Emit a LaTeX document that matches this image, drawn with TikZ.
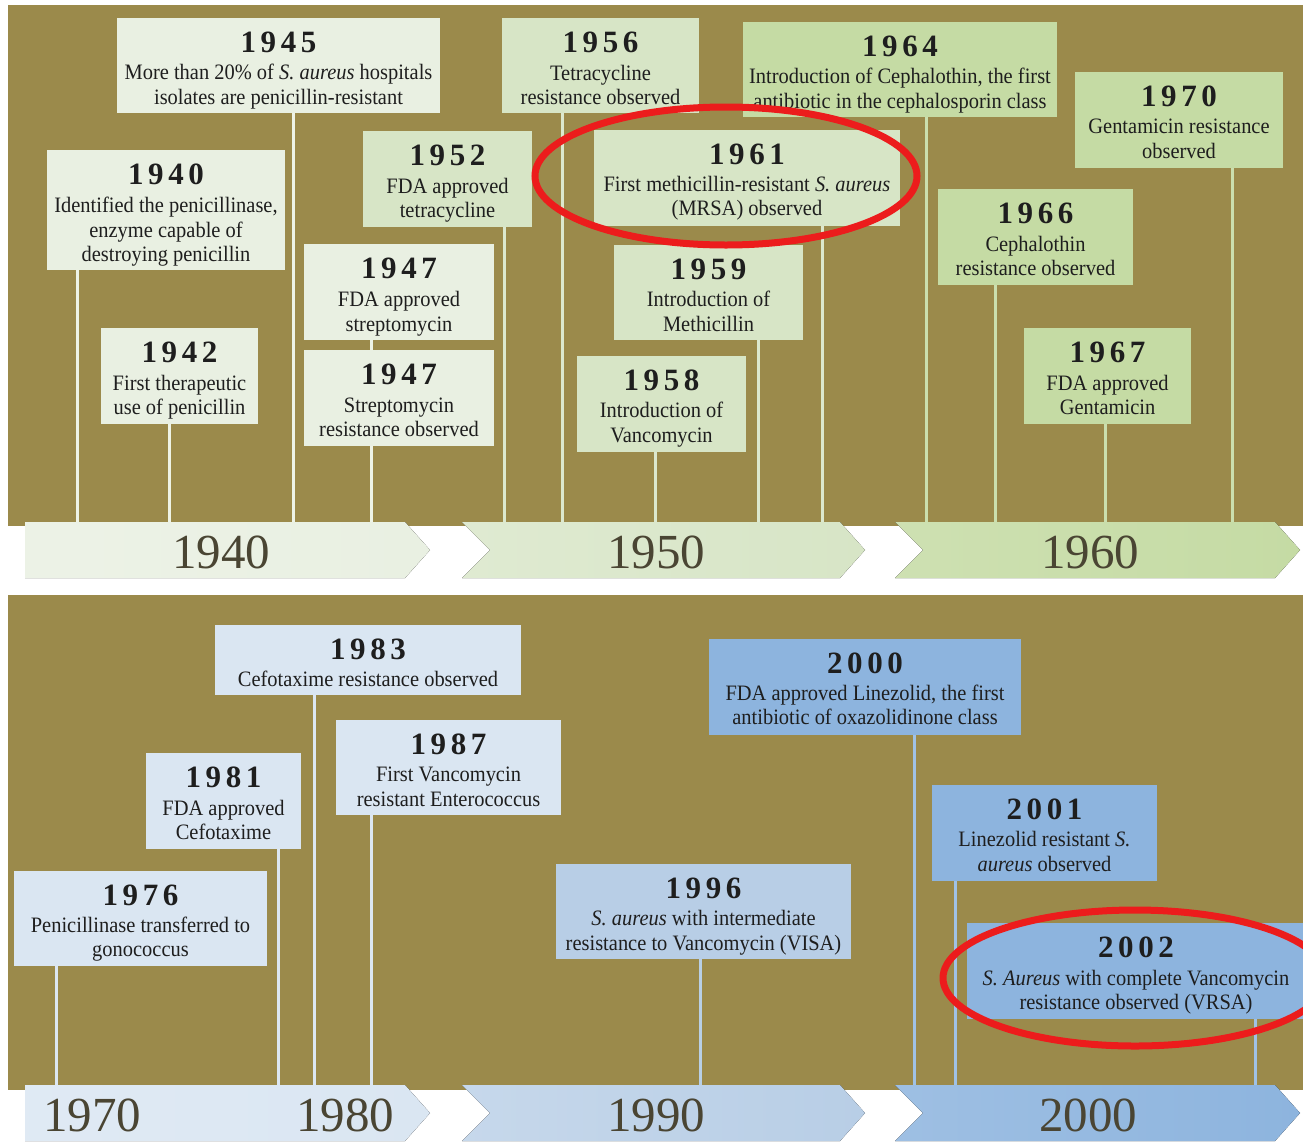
\documentclass[tikz,border=0pt]{standalone}
\usepackage{fontspec}
\setmainfont{Liberation Serif}
\newfontfamily\bodyf[FakeStretch=0.93]{Liberation Serif}
\newfontfamily\yearf[LetterSpace=15]{Liberation Serif}
\usetikzlibrary{fit}
\definecolor{olivebg}{HTML}{9B8A4B}
\definecolor{cA}{HTML}{E9F0E2}
\definecolor{cB}{HTML}{D7E5C6}
\definecolor{cC}{HTML}{C5DBA4}
\definecolor{cD}{HTML}{DAE6F2}
\definecolor{cE}{HTML}{B8CEE6}
\definecolor{cF}{HTML}{8DB4DE}
\definecolor{lA}{HTML}{EEF3E6}
\definecolor{lB}{HTML}{DCE8CE}
\definecolor{lC}{HTML}{CBDFAE}
\definecolor{lD}{HTML}{DCE7F2}
\definecolor{lE}{HTML}{B8CFE6}
\definecolor{lF}{HTML}{A0C2E6}
\definecolor{txt}{HTML}{1E1E1E}
\definecolor{axtxt}{HTML}{4A4533}
\definecolor{mark}{HTML}{EC1C1C}
\tikzset{
  evbox/.style={inner sep=0pt, outer sep=0pt, fill=#1},
  yr/.style={font=\yearf\fontsize{31}{31}\selectfont\bfseries, text height=21pt, text depth=0pt, inner sep=0pt, text=txt},
  bd/.style={font=\bodyf\fontsize{22}{22}\selectfont, text height=13pt, text depth=0pt, inner sep=0pt, text=txt},
  ax/.style={font=\fontsize{49}{49}\selectfont, text=axtxt, text height=33pt, text depth=0pt, inner sep=0pt},
  cn/.style={draw=#1, line width=3pt},
  ring/.style={draw=mark, line width=7pt},
}
\newcommand\evbox[6]{\node[evbox=#6, fit={(#2,#3) (#4,#5)}] (#1) {};}
\newcommand\evyear[2]{\node[yr] (#1-y) at ([yshift=-24pt]#1.north) {#2};}
\newcommand\evline[3]{\node[bd] (#1-l#2) at ([yshift=-#2pt]#1.north) {#3};}
\begin{document}
\begin{tikzpicture}[x=1pt,y=-1pt]
\useasboundingbox (0,0) rectangle (1303,1141);
\clip (0,0) rectangle (1303,1141);
\fill[white] (0,0) rectangle (1303,1141);
% panels
\fill[olivebg] (8,5) rectangle (1310,526);
\fill[olivebg] (8,595) rectangle (1310,1090);
% axis coordinates
\foreach \n/\x in {1945/293,1940/77,1942/169,1947/371,1952/504,1956/562,1961/822,1959/758,1958/655,1964/926,1970/1232,1966/995,1967/1105}
  \coordinate (a\n) at (\x,522);
\foreach \n/\x in {1983/314,1981/278,1987/371,1976/56,1996/700,2000/914,2001/955,2002/1255}
  \coordinate (a\n) at (\x,1085);
% boxes (top)
\evbox{b1945}{117}{18}{440}{113}{cA}
\evbox{b1940}{47}{150}{285}{270}{cA}
\evbox{b1942}{101}{328}{258}{424}{cA}
\evbox{b1947a}{304}{244}{494}{340}{cA}
\evbox{b1947b}{304}{350}{494}{446}{cA}
\evbox{b1952}{363}{131}{532}{227}{cB}
\evbox{b1956}{502}{18}{699}{113}{cB}
\evbox{b1961}{594}{130}{900}{226}{cB}
\evbox{b1959}{614}{245}{803}{340}{cB}
\evbox{b1958}{577}{356}{746}{452}{cB}
\evbox{b1964}{743}{22}{1057}{117}{cC}
\evbox{b1970}{1075}{72}{1283}{168}{cC}
\evbox{b1966}{938}{189}{1133}{285}{cC}
\evbox{b1967}{1024}{328}{1191}{424}{cC}
% boxes (bottom)
\evbox{b1983}{215}{625}{521}{695}{cD}
\evbox{b1981}{146}{753}{301}{849}{cD}
\evbox{b1987}{336}{720}{561}{815}{cD}
\evbox{b1976}{14}{871}{267}{966}{cD}
\evbox{b1996}{556}{864}{851}{959}{cE}
\evbox{b2000}{709}{639}{1021}{735}{cF}
\evbox{b2001}{932}{785}{1157}{881}{cF}
\evbox{b2002}{967}{923}{1305}{1019}{cF}
% connectors (behind boxes)
\begin{scope}[on background layer/.style={}]
\end{scope}
\draw[cn=lA] (b1945.south -| a1945) -- (a1945);
\draw[cn=lA] (b1940.south -| a1940) -- (a1940);
\draw[cn=lA] (b1942.south -| a1942) -- (a1942);
\draw[cn=lA] (b1947a.south -| a1947) -- (b1947b.north -| a1947);
\draw[cn=lA] (b1947b.south -| a1947) -- (a1947);
\draw[cn=lB] (b1952.south -| a1952) -- (a1952);
\draw[cn=lB] (b1956.south -| a1956) -- (a1956);
\draw[cn=lB] (b1961.south -| a1961) -- (a1961);
\draw[cn=lB] (b1959.south -| a1959) -- (a1959);
\draw[cn=lB] (b1958.south -| a1958) -- (a1958);
\draw[cn=lC] (b1964.south -| a1964) -- (a1964);
\draw[cn=lC] (b1970.south -| a1970) -- (a1970);
\draw[cn=lC] (b1966.south -| a1966) -- (a1966);
\draw[cn=lC] (b1967.south -| a1967) -- (a1967);
\draw[cn=lD] (b1983.south -| a1983) -- (a1983);
\draw[cn=lD] (b1981.south -| a1981) -- (a1981);
\draw[cn=lD] (b1987.south -| a1987) -- (a1987);
\draw[cn=lD] (b1976.south -| a1976) -- (a1976);
\draw[cn=lE] (b1996.south -| a1996) -- (a1996);
\draw[cn=lF] (b2000.south -| a2000) -- (a2000);
\draw[cn=lF] (b2001.south -| a2001) -- (a2001);
\draw[cn=lF] (b2002.south -| a2002) -- (a2002);
% texts
\evyear{b1945}{1945}
\evline{b1945}{55}{More than 20\% of \textit{S. aureus} hospitals}
\evline{b1945}{80}{isolates are penicillin-resistant}
\evyear{b1940}{1940}
\evline{b1940}{56}{Identified the penicillinase,}
\evline{b1940}{81}{enzyme capable of}
\evline{b1940}{105}{destroying penicillin}
\evyear{b1942}{1942}
\evline{b1942}{56}{First therapeutic}
\evline{b1942}{80}{use of penicillin}
\evyear{b1947a}{1947}
\evline{b1947a}{56}{FDA approved}
\evline{b1947a}{81}{streptomycin}
\evyear{b1947b}{1947}
\evline{b1947b}{56}{Streptomycin}
\evline{b1947b}{80}{resistance observed}
\evyear{b1952}{1952}
\evline{b1952}{56}{FDA approved}
\evline{b1952}{80}{tetracycline}
\evyear{b1956}{1956}
\evline{b1956}{56}{Tetracycline}
\evline{b1956}{80}{resistance observed}
\evyear{b1961}{1961}
\evline{b1961}{55}{First methicillin-resistant \textit{S. aureus}}
\evline{b1961}{79}{(MRSA) observed}
\evyear{b1959}{1959}
\evline{b1959}{55}{Introduction of}
\evline{b1959}{80}{Methicillin}
\evyear{b1958}{1958}
\evline{b1958}{55}{Introduction of}
\evline{b1958}{80}{Vancomycin}
\evyear{b1964}{1964}
\evline{b1964}{55}{Introduction of Cephalothin, the first}
\evline{b1964}{80}{antibiotic in the cephalosporin class}
\evyear{b1970}{1970}
\evline{b1970}{55}{Gentamicin resistance}
\evline{b1970}{80}{observed}
\evyear{b1966}{1966}
\evline{b1966}{56}{Cephalothin}
\evline{b1966}{80}{resistance observed}
\evyear{b1967}{1967}
\evline{b1967}{56}{FDA approved}
\evline{b1967}{80}{Gentamicin}
\evyear{b1983}{1983}
\evline{b1983}{55}{Cefotaxime resistance observed}
\evyear{b1981}{1981}
\evline{b1981}{56}{FDA approved}
\evline{b1981}{80}{Cefotaxime}
\evyear{b1987}{1987}
\evline{b1987}{55}{First Vancomycin}
\evline{b1987}{80}{resistant Enterococcus}
\evyear{b1976}{1976}
\evline{b1976}{55}{Penicillinase transferred to}
\evline{b1976}{79}{gonococcus}
\evyear{b1996}{1996}
\evline{b1996}{55}{\textit{S. aureus} with intermediate}
\evline{b1996}{80}{resistance to Vancomycin (VISA)}
\evyear{b2000}{2000}
\evline{b2000}{55}{FDA approved Linezolid, the first}
\evline{b2000}{79}{antibiotic of oxazolidinone class}
\evyear{b2001}{2001}
\evline{b2001}{55}{Linezolid resistant \textit{S.}}
\evline{b2001}{80}{\textit{aureus} observed}
\evyear{b2002}{2002}
\evline{b2002}{56}{\textit{S. Aureus} with complete Vancomycin}
\evline{b2002}{80}{resistance observed (VRSA)}
% decade arrows
\fill[left color=cA!85!white, right color=cA] (25,522) -- (405,522) -- (430,550) -- (405,578) -- (25,578) -- cycle;
\fill[left color=cB!80!white, right color=cB] (462,522) -- (840,522) -- (865,550) -- (840,578) -- (462,578) -- (490,550) -- cycle;
\fill[left color=cC!85!white, right color=cC] (895,522) -- (1275,522) -- (1300,550) -- (1275,578) -- (895,578) -- (923,550) -- cycle;
\fill[left color=cD!85!white, right color=cD] (25,1085) -- (405,1085) -- (430,1113) -- (405,1141) -- (25,1141) -- cycle;
\fill[left color=cE!80!white, right color=cE] (462,1085) -- (840,1085) -- (865,1113) -- (840,1141) -- (462,1141) -- (490,1113) -- cycle;
\fill[left color=cF!85!white, right color=cF] (895,1085) -- (1275,1085) -- (1300,1113) -- (1275,1141) -- (895,1141) -- (923,1113) -- cycle;
\node[ax] (d1940) at (221,552) {1940};
\node[ax] (d1950) at (656,552) {1950};
\node[ax] (d1960) at (1090,552) {1960};
\node[ax] (d1970) at (92,1115) {1970};
\node[ax] (d1980) at (345,1115) {1980};
\node[ax] (d1990) at (656,1115) {1990};
\node[ax] (d2000) at (1088,1115) {2000};
% highlight rings
\draw[ring] (726,176) ellipse [x radius=191pt, y radius=69pt];
\draw[ring] (1135,978) ellipse [x radius=192pt, y radius=68pt];
\end{tikzpicture}
\end{document}
